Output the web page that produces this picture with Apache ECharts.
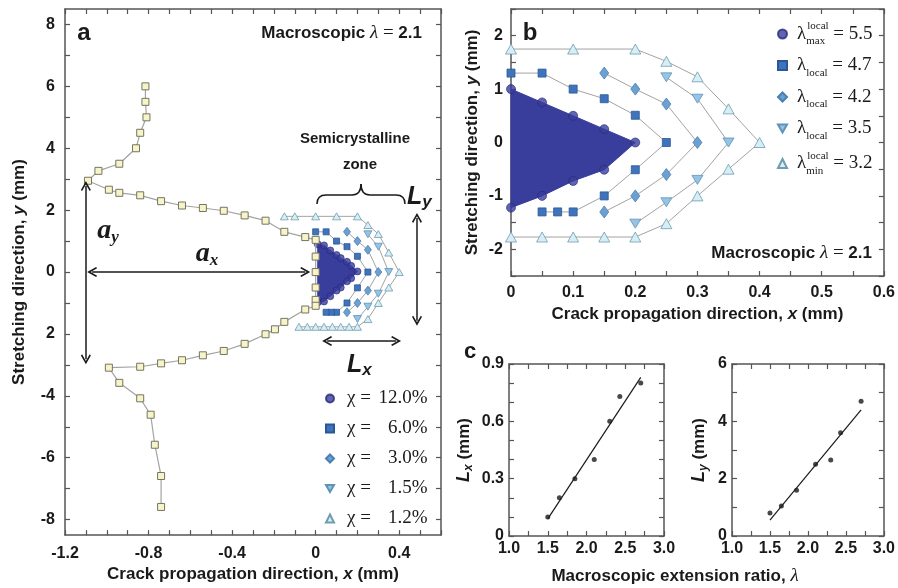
<!DOCTYPE html>
<html>
<head>
<meta charset="utf-8">
<script src="https://cdn.jsdelivr.net/npm/echarts@6/dist/echarts.min.js"></script>
<style>
html,body{margin:0;padding:0;background:#fff;}
#chart{width:898px;height:588px;}
</style>
</head>
<body>
<div id="chart"></div>
<script>
// ---------- panel a: crack contour (x, y in mm) ----------
const crackContour = [
  [-0.815, 6.0], [-0.815, 5.5], [-0.81, 5.0], [-0.84, 4.5], [-0.86, 4.0], [-0.94, 3.5],
  [-1.04, 3.27], [-1.09, 2.95], [-0.99, 2.66], [-0.94, 2.56], [-0.84, 2.48], [-0.74, 2.29],
  [-0.64, 2.15], [-0.54, 2.07], [-0.44, 1.98], [-0.34, 1.83], [-0.24, 1.66], [-0.15, 1.3],
  [-0.05, 1.13], [0, 1.04], [0, 0.5], [0, 0], [0, -0.5], [0, -0.9], [0, -1.09],
  [-0.05, -1.21], [-0.15, -1.61], [-0.195, -1.85], [-0.24, -2.01], [-0.34, -2.32],
  [-0.44, -2.55], [-0.54, -2.69], [-0.64, -2.85], [-0.74, -2.95], [-0.84, -3.06],
  [-0.99, -3.09], [-0.94, -3.58], [-0.84, -4.08], [-0.79, -4.61], [-0.77, -5.58],
  [-0.74, -6.59], [-0.74, -7.59]
];

// ---------- panel a: semicrystalline zone ----------
const zoneCircles = [
  [0.01, 0.9], [0.04, 0.86], [0.07, 0.7], [0.1, 0.55], [0.12, 0.45], [0.15, 0.33],
  [0.17, 0.2], [0.2, 0.02], [0.17, -0.2], [0.15, -0.3], [0.12, -0.5], [0.1, -0.6],
  [0.07, -0.78], [0.04, -0.95], [0.01, -0.98]
];
const zoneUpTriangles = [
  [-0.15, 1.8], [-0.1, 1.8], [0, 1.8], [0.1, 1.8], [0.2, 1.8], [0.25, 1.52], [0.3, 1.23],
  [0.35, 0.63], [0.4, 0], [0.35, -0.5], [0.3, -1.0], [0.25, -1.52], [0.2, -1.77],
  [0.16, -1.77], [0.12, -1.77], [0.08, -1.77], [0.04, -1.77], [0, -1.77], [-0.04, -1.77],
  [-0.08, -1.77]
];

// ---------- panel b: contours of local extension ratio ----------
const lamMaxPts = [
  [0, 1.0], [0.05, 0.75], [0.1, 0.5], [0.15, 0.25], [0.2, 0],
  [0.15, -0.51], [0.1, -0.72], [0.05, -1.0], [0, -1.22]
];
const lam47Pts = [
  [0, 1.3], [0.05, 1.3], [0.1, 1.0], [0.15, 0.82], [0.2, 0.51], [0.25, 0],
  [0.2, -0.51], [0.15, -1.0], [0.1, -1.3], [0.075, -1.3], [0.05, -1.3]
];
const lam42Pts = [
  [0.15, 1.3], [0.2, 1.0], [0.25, 0.72], [0.3, 0], [0.25, -0.6], [0.2, -1.0], [0.15, -1.3]
];
const lam35Pts = [
  [0.25, 1.22], [0.3, 0.82], [0.35, 0], [0.3, -0.7], [0.25, -1.12], [0.2, -1.52]
];
const lamMinPts = [
  [0, 1.75], [0.1, 1.75], [0.2, 1.75], [0.25, 1.52], [0.3, 1.23], [0.35, 0.63], [0.4, 0],
  [0.35, -0.5], [0.3, -1.0], [0.25, -1.52], [0.2, -1.77], [0.15, -1.77], [0.1, -1.77],
  [0.05, -1.77], [0, -1.77]
];

// ---------- panel c: zone size vs macroscopic extension ratio ----------
const lambdaMacro = [1.5, 1.65, 1.85, 2.1, 2.3, 2.43, 2.7];
const LxValues = [0.1, 0.2, 0.3, 0.4, 0.6, 0.73, 0.8];
const LyValues = [0.8, 1.05, 1.6, 2.5, 2.65, 3.6, 4.7];
const LxFit = [[1.5, 0.09], [2.7, 0.83]];
const LyFit = [[1.5, 0.55], [2.7, 4.4]];

// ---------- ticks and tick labels ----------
const aXTicks = [-1.2, -1.1, -1.0, -0.9, -0.8, -0.7, -0.6, -0.5, -0.4, -0.3, -0.2, -0.1, 0, 0.1, 0.2, 0.3, 0.4, 0.5, 0.6];
const aXLabels = [-1.2, -0.8, -0.4, 0, 0.4];
const aYTicks = [-8, -7, -6, -5, -4, -3, -2, -1, 0, 1, 2, 3, 4, 5, 6, 7, 8];
const aYLabels = [-8, -6, -4, -2, 0, 2, 4, 6, 8];
const aYLabelText = ['-8', '-6', '-4', '2', '0', '2', '4', '6', '8'];
const bXTicks = [0, 0.05, 0.1, 0.15, 0.2, 0.25, 0.3, 0.35, 0.4, 0.45, 0.5, 0.55, 0.6];
const bXLabels = [0, 0.1, 0.2, 0.3, 0.4, 0.5, 0.6];
const bYTicks = [-2.5, -2, -1.5, -1, -0.5, 0, 0.5, 1, 1.5, 2, 2.5];
const bYLabels = [-2, -1, 0, 1, 2];
const cXTicks = [1.0, 1.25, 1.5, 1.75, 2.0, 2.25, 2.5, 2.75, 3.0];
const cXLabels = [1.0, 1.5, 2.0, 2.5, 3.0];
const cLxTicks = [0, 0.1, 0.2, 0.3, 0.4, 0.5, 0.6, 0.7, 0.8, 0.9];
const cLxLabels = [0, 0.3, 0.6, 0.9];
const cLyTicks = [0, 1, 2, 3, 4, 5, 6];
const cLyLabels = [0, 2, 4, 6];

// ---------- styling ----------
const SANS = 'Liberation Sans, Arial, sans-serif';
const SERIF = 'Liberation Serif, Times New Roman, serif';
const INK = '#1a1a1a';
const FRAME = '#555';
const GUIDE = '#a3a3a3';
const C_MAX = '#393d9c', E_MAX = '#262a78';
const C_47 = '#3f74bc', E_47 = '#2b5797';
const C_42 = '#6c9fd2', E_42 = '#4c7fb2';
const C_35 = '#95c4e4', E_35 = '#5e92b8';
const C_MIN = '#d6eef6', E_MIN = '#6f9cae';
const DOWN_TRI = 'path://M0,0 L10,0 L5,8.7 Z';
const ARROW_HEAD = 'path://M10,0 L20,13 L17.6,14.6 L10,5 L2.4,14.6 L0,13 Z';

const near = (a, b) => Math.abs(a - b) < 1e-9;

function boxAxes(dim, gridIndex, min, max, ticks, labels, fmt, opts) {
  opts = opts || {};
  const lineStyle = { color: FRAME, width: 1.5 };
  const base = {
    type: 'value', gridIndex, min, max,
    axisLine: { show: true, onZero: false, lineStyle },
    axisTick: { show: true, inside: true, length: 5, customValues: ticks, lineStyle: { color: FRAME, width: 1.2 } },
    splitLine: { show: false },
    minorTick: { show: false }
  };
  const main = Object.assign({}, base, {
    position: dim === 'x' ? 'bottom' : 'left',
    axisLabel: {
      show: true, customValues: labels, formatter: fmt, margin: opts.margin || 8,
      color: INK, fontFamily: SANS, fontWeight: 'bold', fontSize: opts.fontSize || 16
    }
  });
  if (opts.name) {
    Object.assign(main, {
      name: opts.name, nameLocation: 'middle', nameGap: opts.nameGap,
      nameRotate: dim === 'y' ? 90 : 0,
      nameTextStyle: { rich: opts.rich }
    });
  }
  const mirror = Object.assign({}, base, {
    position: dim === 'x' ? 'top' : 'right',
    axisLabel: { show: false }
  });
  return [main, mirror];
}

const nameRich = {
  n: { fontFamily: SANS, fontWeight: 'bold', fontSize: 17, color: INK },
  i: { fontFamily: SANS, fontWeight: 'bold', fontStyle: 'italic', fontSize: 17, color: INK }
};
const LRich = {
  L: { fontFamily: SANS, fontWeight: 'bold', fontStyle: 'italic', fontSize: 18, color: INK, lineHeight: 22 },
  s: { fontFamily: SANS, fontWeight: 'bold', fontStyle: 'italic', fontSize: 12, color: INK, verticalAlign: 'bottom', lineHeight: 14 },
  n: { fontFamily: SANS, fontWeight: 'bold', fontSize: 17, color: INK, lineHeight: 22 }
};

const fmtAX = v => near(v, 0) ? '0' : v.toFixed(1);
const fmtAY = v => { const i = aYLabels.findIndex(t => near(t, v)); return i >= 0 ? aYLabelText[i] : ''; };
const fmtBX = v => near(v, 0) ? '0' : String(+v.toFixed(1));
const fmtInt = v => String(Math.round(v));
const fmtCX = v => v.toFixed(1);
const fmtCLx = v => near(v, 0) ? '0' : v.toFixed(1);

const xA = boxAxes('x', 0, -1.2, 0.6, aXTicks, aXLabels, fmtAX, { margin: 10, name: '{n|Crack propagation direction, }{i|x}{n| (mm)}', nameGap: 30, rich: nameRich });
const yA = boxAxes('y', 0, -8.5, 8.5, aYTicks, aYLabels, fmtAY, { margin: 10, name: '{n|Stretching direction, }{i|y}{n| (mm)}', nameGap: 37, rich: nameRich });
const xB = boxAxes('x', 1, 0, 0.6, bXTicks, bXLabels, fmtBX, { margin: 9, name: '{n|Crack propagation direction, }{i|x}{n| (mm)}', nameGap: 30, rich: nameRich });
const yB = boxAxes('y', 1, -2.5, 2.5, bYTicks, bYLabels, fmtInt, { margin: 8, name: '{n|Stretching direction, }{i|y}{n| (mm)}', nameGap: 30, rich: nameRich });
const xC1 = boxAxes('x', 2, 1.0, 3.0, cXTicks, cXLabels, fmtCX, { margin: 5 });
const yC1 = boxAxes('y', 2, 0, 0.9, cLxTicks, cLxLabels, fmtCLx, { margin: 5, name: '{L|L}{s|x}{n| (mm)}', nameGap: 34, rich: LRich });
const xC2 = boxAxes('x', 3, 1.0, 3.0, cXTicks, cXLabels, fmtCX, { margin: 5 });
const yC2 = boxAxes('y', 3, 0, 6, cLyTicks, cLyLabels, fmtInt, { margin: 5, name: '{L|L}{s|y}{n| (mm)}', nameGap: 22, rich: LRich });

// polygon of the most crystallised region, drawn through the axes' scales
function zonePolygon(points, xi, yi, z) {
  return {
    type: 'custom', xAxisIndex: xi, yAxisIndex: yi, silent: true, z,
    data: points,
    renderItem: (params, api) => {
      if (params.dataIndex !== 0) return null;
      return {
        type: 'polygon',
        shape: { points: points.map(p => api.coord(p)) },
        style: { fill: C_MAX, stroke: C_MAX, lineWidth: 1 }
      };
    }
  };
}

function contour(name, points, xi, yi, symbol, size, color, edge, z) {
  return {
    name, type: 'line', xAxisIndex: xi, yAxisIndex: yi, data: points, z,
    symbol, symbolSize: size, showAllSymbol: true, smooth: false,
    lineStyle: { color: GUIDE, width: 1 },
    itemStyle: { color, borderColor: edge, borderWidth: 0.8 },
    emphasis: { disabled: true }
  };
}
function dots(name, points, xi, yi, size, z) {
  return {
    name, type: 'scatter', xAxisIndex: xi, yAxisIndex: yi, data: points, z,
    symbol: 'circle', symbolSize: size,
    itemStyle: { color: C_MAX, borderColor: E_MAX, borderWidth: 0.8 }
  };
}

const arrowPairs = [
  [{ coord: [-1.1, 2.78] }, { coord: [-1.1, -2.82] }],
  [{ coord: [-1.07, 0] }, { coord: [-0.05, 0] }],
  [{ coord: [0.485, 1.75] }, { coord: [0.485, -1.57] }],
  [{ coord: [0.055, -2.23] }, { coord: [0.385, -2.23] }]
];

const chiRich = {
  sp: { width: 8 },
  c: { fontFamily: SERIF, fontSize: 19, color: INK, lineHeight: 24 },
  v: { fontFamily: SERIF, fontSize: 19, color: INK, lineHeight: 24, width: 52, align: 'right' }
};
const chiText = {
  chi120: '{sp|}{c|\u03c7 = }{v|12.0%}',
  chi60: '{sp|}{c|\u03c7 = }{v|6.0%}',
  chi30: '{sp|}{c|\u03c7 = }{v|3.0%}',
  chi15: '{sp|}{c|\u03c7 = }{v|1.5%}',
  chi12: '{sp|}{c|\u03c7 = }{v|1.2%}'
};
const lamRich = {
  sp: { width: 5 },
  l: { fontFamily: SERIF, fontSize: 19, color: INK, lineHeight: 26 },
  sb: { fontFamily: SERIF, fontSize: 11, color: INK, lineHeight: 12, verticalAlign: 'bottom' },
  sbz: { fontFamily: SERIF, fontSize: 11, color: INK, lineHeight: 12, verticalAlign: 'bottom', width: 1 },
  sp2: { fontFamily: SERIF, fontSize: 11, color: INK, lineHeight: 12, verticalAlign: 'top' },
  e: { fontFamily: SERIF, fontSize: 19, color: INK, lineHeight: 26 }
};
const lamText = {
  lam55: '{sp|}{l|\u03bb}{sbz|max}{sp2|local}{e| = 5.5}',
  lam47: '{sp|}{l|\u03bb}{sb|local}{e| = 4.7}',
  lam42: '{sp|}{l|\u03bb}{sb|local}{e| = 4.2}',
  lam35: '{sp|}{l|\u03bb}{sb|local}{e| = 3.5}',
  lam32: '{sp|}{l|\u03bb}{sbz|min}{sp2|local}{e| = 3.2}'
};

const macroRich = {
  b: { fontFamily: SANS, fontWeight: 'bold', fontSize: 17, color: INK },
  l: { fontFamily: SERIF, fontStyle: 'italic', fontSize: 19, color: INK },
  e: { fontFamily: SERIF, fontSize: 19, color: INK }
};
const macroText = '{b|Macroscopic }{l|\u03bb}{e| = }{b|2.1}';

function label(x, y, text, font, align) {
  return { type: 'text', x, y, silent: true, z: 50,
    style: { text, font, fill: INK, align: align || 'center', verticalAlign: 'middle' } };
}
function richLabel(x, y, text, rich, align) {
  return { type: 'text', x, y, silent: true, z: 50,
    style: { text, rich, fill: INK, align: align || 'center', verticalAlign: 'middle' } };
}
const braceStyle = { stroke: INK, lineWidth: 1.5, fill: null };
const symRich = {
  a: { fontFamily: SERIF, fontStyle: 'italic', fontWeight: 'bold', fontSize: 28, color: INK, lineHeight: 30 },
  s: { fontFamily: SERIF, fontStyle: 'italic', fontWeight: 'bold', fontSize: 17, color: INK, lineHeight: 18, verticalAlign: 'bottom' }
};
const LbigRich = {
  L: { fontFamily: SANS, fontStyle: 'italic', fontWeight: 'bold', fontSize: 25, color: INK, lineHeight: 28 },
  s: { fontFamily: SANS, fontStyle: 'italic', fontWeight: 'bold', fontSize: 17, color: INK, lineHeight: 16, verticalAlign: 'bottom' }
};

const option = {
  animation: false,
  backgroundColor: '#fff',
  grid: [
    { left: 65, top: 9, width: 376, height: 527 },
    { left: 511, top: 9, width: 374, height: 267 },
    { left: 509, top: 364, width: 155, height: 172 },
    { left: 732, top: 364, width: 153, height: 172 }
  ],
  xAxis: [xA[0], xA[1], xB[0], xB[1], xC1[0], xC1[1], xC2[0], xC2[1]],
  yAxis: [yA[0], yA[1], yB[0], yB[1], yC1[0], yC1[1], yC2[0], yC2[1]],
  legend: [
    {
      data: [
        { name: 'chi120', icon: 'circle' }, { name: 'chi60', icon: 'rect' },
        { name: 'chi30', icon: 'diamond' }, { name: 'chi15', icon: DOWN_TRI },
        { name: 'chi12', icon: 'triangle' }
      ],
      orient: 'vertical', left: 320, top: 384, itemWidth: 8, itemHeight: 8, itemGap: 11,
      selectedMode: false, formatter: n => chiText[n], textStyle: { rich: chiRich }
    },
    {
      data: [
        { name: 'lam55', icon: 'circle' }, { name: 'lam47', icon: 'rect' },
        { name: 'lam42', icon: 'diamond' }, { name: 'lam35', icon: DOWN_TRI },
        { name: 'lam32', icon: 'triangle' }
      ],
      orient: 'vertical', left: 772, top: 16, itemWidth: 9, itemHeight: 9, itemGap: 9,
      selectedMode: false, formatter: n => lamText[n], textStyle: { rich: lamRich }
    }
  ],
  series: [
    // panel a
    zonePolygon(zoneCircles, 0, 0, 2),
    dots('chi120', zoneCircles, 0, 0, 7, 3),
    contour('chi60', lam47Pts, 0, 0, 'rect', 6, C_47, E_47, 3),
    contour('chi30', lam42Pts, 0, 0, 'diamond', [7, 9], C_42, E_42, 3),
    contour('chi15', lam35Pts, 0, 0, DOWN_TRI, [8, 7], C_35, E_35, 3),
    contour('chi12', zoneUpTriangles, 0, 0, 'triangle', [8, 7], C_MIN, E_MIN, 3),
    {
      name: 'crack', type: 'line', xAxisIndex: 0, yAxisIndex: 0, data: crackContour, z: 4,
      symbol: 'rect', symbolSize: 7, showAllSymbol: true,
      lineStyle: { color: GUIDE, width: 1.2 },
      itemStyle: { color: '#f7f4cc', borderColor: '#75745e', borderWidth: 1 },
      markLine: {
        silent: true, symbol: [ARROW_HEAD, ARROW_HEAD], symbolSize: [10, 10],
        label: { show: false }, lineStyle: { color: INK, width: 1.5, type: 'solid' },
        data: arrowPairs
      }
    },
    // panel b
    zonePolygon(lamMaxPts, 2, 2, 2),
    dots('lam55', lamMaxPts, 2, 2, 9, 3),
    contour('lam47', lam47Pts, 2, 2, 'rect', 8, C_47, E_47, 3),
    contour('lam42', lam42Pts, 2, 2, 'diamond', [9, 12], C_42, E_42, 3),
    contour('lam35', lam35Pts, 2, 2, DOWN_TRI, [11, 9], C_35, E_35, 3),
    contour('lam32', lamMinPts, 2, 2, 'triangle', [11, 10], C_MIN, E_MIN, 3),
    // panel c
    { type: 'line', xAxisIndex: 4, yAxisIndex: 4, data: LxFit, symbol: 'none', lineStyle: { color: INK, width: 1.2 } },
    { type: 'scatter', xAxisIndex: 4, yAxisIndex: 4, data: lambdaMacro.map((l, i) => [l, LxValues[i]]), symbolSize: 5, itemStyle: { color: INK } },
    { type: 'line', xAxisIndex: 6, yAxisIndex: 6, data: LyFit, symbol: 'none', lineStyle: { color: INK, width: 1.2 } },
    { type: 'scatter', xAxisIndex: 6, yAxisIndex: 6, data: lambdaMacro.map((l, i) => [l, LyValues[i]]), symbolSize: 5, itemStyle: { color: INK } }
  ],
  graphic: [
    label(84, 33, 'a', 'bold 24px ' + SANS),
    label(530, 33, 'b', 'bold 24px ' + SANS),
    label(470, 352, 'c', 'bold 22px ' + SANS),
    richLabel(422, 33, macroText, macroRich, 'right'),
    richLabel(872, 253, macroText, macroRich, 'right'),
    label(355, 139, 'Semicrystalline', 'bold 15px ' + SANS),
    label(360, 165, 'zone', 'bold 15px ' + SANS),
    richLabel(108, 231, '{a|a}{s|y}', symRich),
    richLabel(207, 254, '{a|a}{s|x}', symRich),
    richLabel(407, 197, '{L|L}{s|y}', LbigRich, 'left'),
    richLabel(347, 365, '{L|L}{s|x}', LbigRich, 'left'),
    richLabel(675, 576, '{n|Macroscopic extension ratio, }{l|\u03bb}', {
      n: { fontFamily: SANS, fontWeight: 'bold', fontSize: 17, color: INK },
      l: { fontFamily: SERIF, fontStyle: 'italic', fontSize: 19, color: INK }
    }),
    // curly brace over the semicrystalline zone
    { type: 'bezierCurve', silent: true, shape: { x1: 317, y1: 204, cpx1: 317, cpy1: 195, x2: 326, y2: 195 }, style: braceStyle },
    { type: 'line', silent: true, shape: { x1: 326, y1: 195, x2: 352, y2: 195 }, style: braceStyle },
    { type: 'bezierCurve', silent: true, shape: { x1: 352, y1: 195, cpx1: 361, cpy1: 195, x2: 361, y2: 184 }, style: braceStyle },
    { type: 'bezierCurve', silent: true, shape: { x1: 361, y1: 184, cpx1: 361, cpy1: 195, x2: 370, y2: 195 }, style: braceStyle },
    { type: 'line', silent: true, shape: { x1: 370, y1: 195, x2: 396, y2: 195 }, style: braceStyle },
    { type: 'bezierCurve', silent: true, shape: { x1: 396, y1: 195, cpx1: 405, cpy1: 195, x2: 405, y2: 204 }, style: braceStyle }
  ]
};

const chart = echarts.init(document.getElementById('chart'), null, { renderer: 'canvas' });
chart.setOption(option);
</script>
</body>
</html>
